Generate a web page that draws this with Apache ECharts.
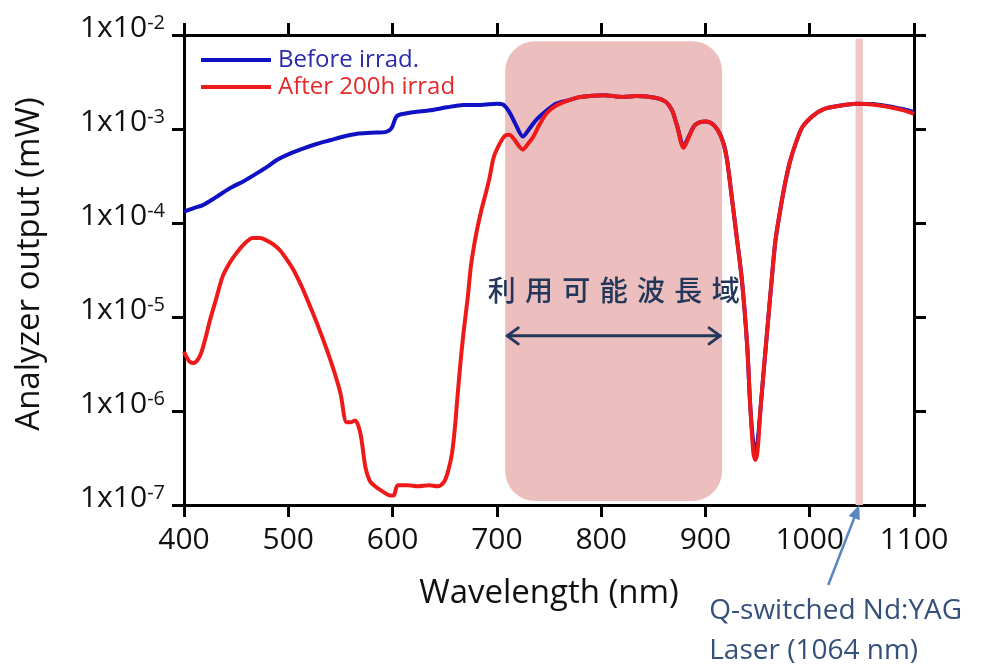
<!DOCTYPE html>
<html>
<head>
<meta charset="utf-8">
<script src="https://cdn.jsdelivr.net/npm/echarts@6/dist/echarts.min.js"></script>
<style>
  html, body { margin: 0; padding: 0; background: #ffffff; }
  #chart { width: 993px; height: 667px; }
</style>
</head>
<body>
<div id="chart"></div>
<script>
// Transmission spectrum through the analyzer, before and after irradiation
const wavelengthBefore = [400, 410, 418, 430, 444, 458, 470, 480, 489, 500, 514, 527, 540, 553, 566, 580, 594, 599, 603, 606, 620, 636, 652, 668, 684, 700, 706, 712, 718, 725, 731, 738, 748, 757, 770, 780, 802, 821, 834, 853, 862, 868, 873, 879, 884, 890, 900, 908, 915, 920, 925, 930, 935, 940, 943, 946, 948, 950, 953, 958, 963.5, 967, 971.5, 976, 981, 987, 993, 1003, 1013, 1030, 1045, 1060, 1077, 1090, 1100];
const outputBefore = [1.32e-4, 1.45e-4, 1.55e-4, 1.86e-4, 2.34e-4, 2.82e-4, 3.39e-4, 3.98e-4, 4.68e-4, 5.37e-4, 6.17e-4, 6.92e-4, 7.59e-4, 8.32e-4, 8.91e-4, 9.12e-4, 9.33e-4, 1.02e-3, 1.32e-3, 1.41e-3, 1.51e-3, 1.58e-3, 1.70e-3, 1.80e-3, 1.80e-3, 1.86e-3, 1.82e-3, 1.51e-3, 1.12e-3, 8.32e-4, 1.00e-3, 1.26e-3, 1.58e-3, 1.86e-3, 2.04e-3, 2.19e-3, 2.29e-3, 2.19e-3, 2.24e-3, 2.14e-3, 1.95e-3, 1.58e-3, 1.07e-3, 6.61e-4, 8.32e-4, 1.10e-3, 1.20e-3, 1.10e-3, 8.32e-4, 5.25e-4, 2.00e-4, 7.08e-5, 2.45e-5, 5.01e-6, 1.12e-6, 4.47e-7, 3.72e-7, 4.68e-7, 1.12e-6, 5.01e-6, 2.45e-5, 6.31e-5, 1.32e-4, 2.51e-4, 4.47e-4, 7.24e-4, 1.05e-3, 1.38e-3, 1.62e-3, 1.78e-3, 1.86e-3, 1.84e-3, 1.74e-3, 1.62e-3, 1.51e-3];

const wavelengthAfter = [400, 405, 409, 415, 420, 425, 431, 437, 444, 451, 458, 466, 473, 480, 486, 492, 498, 505, 513, 521, 529, 537, 544, 550, 556, 560, 564, 569, 574, 578, 582, 591, 598, 601, 605, 615, 624, 635, 643, 649, 653, 657, 660, 662, 665, 668, 672, 675, 678, 681, 685, 689, 693, 697, 703, 708, 712, 716, 721, 725, 729, 735, 741, 748, 757, 770, 780, 802, 821, 834, 853, 862, 868, 873, 879, 884, 890, 900, 908, 915, 920, 925, 930, 935, 940, 943, 946, 948, 950, 953, 958, 963.5, 967, 971.5, 976, 981, 987, 993, 1003, 1013, 1030, 1045, 1060, 1077, 1090, 1100];
const outputAfter = [4.27e-6, 3.39e-6, 3.24e-6, 3.80e-6, 5.62e-6, 9.33e-6, 1.58e-5, 2.69e-5, 3.80e-5, 4.90e-5, 6.03e-5, 6.92e-5, 6.92e-5, 6.46e-5, 5.89e-5, 5.13e-5, 4.17e-5, 3.16e-5, 2.09e-5, 1.29e-5, 7.76e-6, 4.47e-6, 2.63e-6, 1.55e-6, 7.59e-7, 7.59e-7, 7.94e-7, 5.89e-7, 2.51e-7, 1.82e-7, 1.62e-7, 1.38e-7, 1.26e-7, 1.26e-7, 1.62e-7, 1.62e-7, 1.58e-7, 1.62e-7, 1.58e-7, 1.74e-7, 2.24e-7, 3.55e-7, 7.08e-7, 1.32e-6, 3.16e-6, 6.76e-6, 1.58e-5, 3.39e-5, 5.62e-5, 8.51e-5, 1.35e-4, 2.00e-4, 3.02e-4, 5.01e-4, 7.08e-4, 8.51e-4, 8.71e-4, 7.94e-4, 6.61e-4, 6.03e-4, 6.76e-4, 8.32e-4, 1.12e-3, 1.48e-3, 1.78e-3, 2.04e-3, 2.19e-3, 2.29e-3, 2.19e-3, 2.24e-3, 2.14e-3, 1.95e-3, 1.58e-3, 1.05e-3, 6.31e-4, 8.13e-4, 1.10e-3, 1.20e-3, 1.10e-3, 8.32e-4, 5.25e-4, 2.00e-4, 7.08e-5, 2.45e-5, 5.01e-6, 1.12e-6, 3.55e-7, 3.02e-7, 3.80e-7, 1.12e-6, 5.01e-6, 2.45e-5, 6.31e-5, 1.32e-4, 2.51e-4, 4.47e-4, 7.24e-4, 1.05e-3, 1.38e-3, 1.62e-3, 1.78e-3, 1.86e-3, 1.82e-3, 1.70e-3, 1.58e-3, 1.45e-3];

// Axis ranges and ticks
const xTicks = [400, 500, 600, 700, 800, 900, 1000, 1100];
const yRange = [1e-7, 1e-2];

// Usable wavelength window, the arrow spanning it, and the laser line
const usableBand = [708, 916];
const usableBandY = [8.6e-3, 1.1e-7];
const usableArrowY = 6.3e-6;
const usableLabelY = 1.9e-5;
const usableLabel = ['利', '用', '可', '能', '波', '長', '域'];
const laserBand = [1044, 1051];
const laserBandY = [9.1e-3, 1e-7];
const laserNote = ['Q-switched Nd:YAG', 'Laser (1064 nm)'];

const seriesNames = ['Before irrad.', 'After 200h irrad'];
const lineColors = ['#1111c4', '#ee1a1a'];
const legendColors = ['#2a2aaa', '#e32a2a'];

const FONT = '"Open Sans", Lato, sans-serif';
const NAVY = '#22375a';

const chart = echarts.init(document.getElementById('chart'), null, { renderer: 'canvas' });

function zip(xs, ys) { return xs.map((x, i) => [x, ys[i]]); }

const axisLine = { show: true, lineStyle: { color: '#000', width: 3 } };
const axisTick = { show: true, inside: false, length: 12, lineStyle: { color: '#000', width: 3 } };

function renderUsable(params, api) {
  const p0 = api.coord([api.value(0), usableBandY[0]]);
  const p1 = api.coord([api.value(1), usableBandY[1]]);
  const a0 = api.coord([api.value(0), usableArrowY]);
  const a1 = api.coord([api.value(1), usableArrowY]);
  const t = api.coord([(api.value(0) + api.value(1)) / 2, usableLabelY]);
  const ah = 11, aw = 8;
  const arrowStyle = { stroke: NAVY, lineWidth: 3, fill: null, lineCap: 'round', lineJoin: 'round' };
  return {
    type: 'group',
    children: [
      { type: 'rect', shape: { x: p0[0], y: p0[1], width: p1[0] - p0[0], height: p1[1] - p0[1], r: 30 },
        style: { fill: '#ecbebe' } },
      { type: 'line', shape: { x1: a0[0] + 2, y1: a0[1], x2: a1[0] - 2, y2: a1[1] }, style: arrowStyle },
      { type: 'polyline', shape: { points: [[a0[0] + ah + 2, a0[1] - aw], [a0[0] + 2, a0[1]], [a0[0] + ah + 2, a0[1] + aw]] }, style: arrowStyle },
      { type: 'polyline', shape: { points: [[a1[0] - ah - 2, a1[1] - aw], [a1[0] - 2, a1[1]], [a1[0] - ah - 2, a1[1] + aw]] }, style: arrowStyle },
      { type: 'text', style: { text: usableLabel.join('\u2004'), x: t[0], y: t[1], align: 'center', verticalAlign: 'middle',
        fill: NAVY, font: '500 28px "Noto Sans CJK JP", sans-serif' } }
    ]
  };
}

function renderLaser(params, api) {
  const p0 = api.coord([api.value(0), laserBandY[0]]);
  const p1 = api.coord([api.value(1), laserBandY[1]]);
  return { type: 'rect', shape: { x: p0[0], y: p0[1], width: p1[0] - p0[0], height: p1[1] - p0[1] },
    style: { fill: '#f0c6c6' } };
}

chart.setOption({
  animation: false,
  backgroundColor: '#ffffff',
  grid: { left: 184, right: 79, top: 35, bottom: 162, containLabel: false },
  legend: {
    left: 196, top: 43, orient: 'vertical', itemWidth: 70, itemHeight: 4, itemGap: 3,
    icon: 'rect',
    textStyle: { fontFamily: FONT, fontSize: 24, lineHeight: 24, padding: [0, 0, 0, 2] },
    data: [
      { name: seriesNames[0], textStyle: { color: legendColors[0] } },
      { name: seriesNames[1], textStyle: { color: legendColors[1] } }
    ]
  },
  xAxis: [
    {
      type: 'value', min: 400, max: 1100, interval: 100, position: 'bottom',
      name: 'Wavelength (nm)', nameLocation: 'middle', nameGap: 72,
      nameTextStyle: { fontFamily: FONT, fontSize: 33, color: '#111' },
      axisLine, axisTick, splitLine: { show: false },
      axisLabel: { margin: 20, fontFamily: FONT, fontSize: 30, color: '#111',
        formatter: v => (xTicks.includes(v) ? String(v) : '') }
    },
    {
      type: 'value', min: 400, max: 1100, interval: 100, position: 'top',
      axisLine, axisTick, splitLine: { show: false }, axisLabel: { show: false }
    }
  ],
  yAxis: [
    {
      type: 'log', logBase: 10, min: yRange[0], max: yRange[1], position: 'left',
      name: 'Analyzer output (mW)', nameLocation: 'middle', nameGap: 138, nameRotate: 90,
      nameTextStyle: { fontFamily: FONT, fontSize: 33, color: '#111', padding: [0, 0, 0, 12] },
      axisLine, axisTick, splitLine: { show: false }, minorTick: { show: false },
      axisLabel: {
        margin: 19, fontFamily: FONT, color: '#111', padding: [0, 0, 14, 0],
        formatter: v => '{m|1x10}{e|' + Math.round(Math.log10(v)) + '}',
        rich: {
          m: { fontFamily: FONT, fontSize: 30, color: '#111', lineHeight: 30, verticalAlign: 'top' },
          e: { fontFamily: FONT, fontSize: 20, color: '#111', lineHeight: 12, verticalAlign: 'top' }
        }
      }
    },
    {
      type: 'log', logBase: 10, min: yRange[0], max: yRange[1], position: 'right',
      axisLine, axisTick, splitLine: { show: false }, axisLabel: { show: false }
    }
  ],
  series: [
    {
      type: 'custom', name: 'usable', z: 1, silent: true, clip: false,
      xAxisIndex: 0, yAxisIndex: 0,
      renderItem: renderUsable, data: [usableBand]
    },
    {
      type: 'custom', name: 'laser', z: 1, silent: true,
      xAxisIndex: 0, yAxisIndex: 0,
      renderItem: renderLaser, data: [laserBand]
    },
    {
      name: seriesNames[0], type: 'line', z: 3, xAxisIndex: 0, yAxisIndex: 0,
      data: zip(wavelengthBefore, outputBefore), showSymbol: false, smooth: 0.3,
      color: lineColors[0], lineStyle: { color: lineColors[0], width: 4 }
    },
    {
      name: seriesNames[1], type: 'line', z: 4, xAxisIndex: 0, yAxisIndex: 0,
      data: zip(wavelengthAfter, outputAfter), showSymbol: false, smooth: 0.3,
      color: lineColors[1], lineStyle: { color: lineColors[1], width: 4 }
    }
  ]
});

// Pointer from the laser note up to the laser line on the wavelength axis
const laserCenter = (laserBand[0] + laserBand[1]) / 2;
const tip = chart.convertToPixel({ xAxisIndex: 0, yAxisIndex: 0 }, [laserCenter, yRange[0]]);
const tail = [tip[0] - 31, tip[1] + 80];
const ang = Math.atan2(tip[1] - tail[1], tip[0] - tail[0]);
const hl = 14, hw = 6;
const base = [tip[0] - hl * Math.cos(ang), tip[1] - hl * Math.sin(ang)];
const head = [
  tip,
  [base[0] + hw * Math.sin(ang), base[1] - hw * Math.cos(ang)],
  [base[0] - hw * Math.sin(ang), base[1] + hw * Math.cos(ang)]
];
const NOTE = '#35507a';
chart.setOption({
  graphic: [
    { type: 'line', shape: { x1: tail[0], y1: tail[1], x2: base[0], y2: base[1] },
      style: { stroke: '#5a86c0', lineWidth: 2.5 }, z: 10 },
    { type: 'polygon', shape: { points: head }, style: { fill: '#5a86c0' }, z: 10 },
    { type: 'text', left: tip[0] - 150, top: 591, z: 10,
      style: { text: laserNote.join('\n'), font: '28px ' + FONT, fill: NOTE, lineHeight: 40 } }
  ]
});
</script>
</body>
</html>
